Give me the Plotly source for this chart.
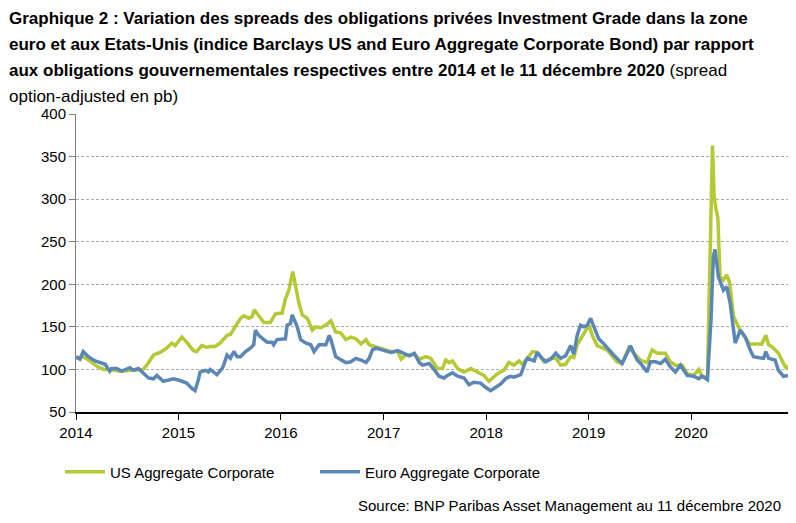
import plotly.graph_objects as go

FONT = "Liberation Sans, Arial, sans-serif"

us_dates = [
    "2014-01-01", "2014-01-27", "2014-02-20", "2014-03-15", "2014-04-09", "2014-05-01", "2014-06-08",
    "2014-07-12", "2014-08-05", "2014-08-29", "2014-09-10", "2014-10-04", "2014-10-28", "2014-11-20",
    "2014-12-08", "2014-12-20", "2015-01-13", "2015-01-30", "2015-02-23", "2015-03-07", "2015-03-25",
    "2015-04-12", "2015-04-24", "2015-05-12", "2015-05-30", "2015-06-23", "2015-07-05", "2015-07-23",
    "2015-08-10", "2015-08-22", "2015-09-08", "2015-09-20", "2015-09-28", "2015-10-14", "2015-11-01",
    "2015-11-24", "2015-12-12", "2015-12-24", "2016-01-05", "2016-01-17", "2016-01-29", "2016-02-12",
    "2016-02-22", "2016-03-05", "2016-03-17", "2016-04-04", "2016-04-22", "2016-05-04", "2016-05-22",
    "2016-06-09", "2016-06-27", "2016-07-14", "2016-08-01", "2016-08-19", "2016-09-06", "2016-09-24",
    "2016-10-12", "2016-10-30", "2016-11-10", "2016-12-04", "2016-12-28", "2017-01-27", "2017-02-20",
    "2017-03-04", "2017-03-21", "2017-04-08", "2017-04-20", "2017-05-08", "2017-05-31", "2017-06-18",
    "2017-07-11", "2017-07-29", "2017-08-10", "2017-08-22", "2017-09-03", "2017-09-21", "2017-10-14",
    "2017-11-07", "2017-11-30", "2017-12-24", "2018-01-11", "2018-01-17", "2018-02-10", "2018-03-05",
    "2018-03-23", "2018-04-10", "2018-04-28", "2018-05-10", "2018-05-28", "2018-06-15", "2018-07-02",
    "2018-07-26", "2018-08-19", "2018-09-06", "2018-09-23", "2018-10-11", "2018-10-29", "2018-11-09",
    "2018-11-21", "2018-12-03", "2018-12-15", "2019-01-02", "2019-01-14", "2019-01-31", "2019-03-08",
    "2019-03-19", "2019-04-12", "2019-04-30", "2019-05-24", "2019-06-11", "2019-07-04", "2019-07-28",
    "2019-08-15", "2019-09-02", "2019-10-01", "2019-10-19", "2019-11-06", "2019-11-30", "2019-12-18",
    "2020-01-10", "2020-01-28", "2020-02-09", "2020-02-28", "2020-03-17", "2020-03-23", "2020-03-30",
    "2020-04-05", "2020-04-13", "2020-04-25", "2020-05-07", "2020-05-17", "2020-05-31", "2020-06-12",
    "2020-06-24", "2020-07-12", "2020-07-29", "2020-08-10", "2020-09-09", "2020-09-23", "2020-10-03",
    "2020-10-20", "2020-11-07", "2020-11-25", "2020-12-05", "2020-12-11",
]
us_values = [
    113, 115, 110, 104, 100, 100, 98,
    99, 100, 100, 105, 117, 120, 125,
    131, 128, 138, 132, 122, 121, 128,
    126, 127, 127, 131, 140, 141, 150,
    160, 163, 160, 162, 170, 163, 155,
    155, 165, 166, 166, 183, 193, 215,
    197, 178, 164, 160, 146, 150, 149,
    152, 157, 144, 143, 135, 138, 136,
    130, 135, 129, 127, 124, 121, 121,
    112, 117, 117, 118, 112, 115, 113,
    101, 101, 111, 108, 110, 101, 97,
    101, 97, 93, 86, 88, 95, 99,
    108, 105, 110, 106, 113, 121, 120,
    109, 113, 113, 105, 106, 115, 114,
    129, 136, 142, 152, 140, 128, 123,
    119, 109, 107, 125, 119, 111, 108,
    123, 119, 119, 109, 105, 105, 95,
    93, 100, 92, 90, 363, 303, 287,
    279, 209, 205, 211, 202, 162, 154,
    146, 137, 129, 130, 130, 140, 129,
    125, 119, 107, 101, 105,
]

eu_dates = [
    "2014-01-01", "2014-01-15", "2014-01-27", "2014-02-14", "2014-03-10", "2014-03-28", "2014-04-15",
    "2014-05-01", "2014-05-08", "2014-05-26", "2014-06-13", "2014-07-12", "2014-07-24", "2014-08-11",
    "2014-08-29", "2014-09-16", "2014-10-04", "2014-10-16", "2014-11-08", "2014-12-02", "2014-12-14",
    "2015-01-07", "2015-01-30", "2015-02-17", "2015-03-01", "2015-03-13", "2015-03-19", "2015-04-06",
    "2015-04-18", "2015-04-24", "2015-05-06", "2015-05-18", "2015-06-05", "2015-06-11", "2015-06-23",
    "2015-07-05", "2015-07-17", "2015-07-29", "2015-08-10", "2015-08-28", "2015-09-14", "2015-09-26",
    "2015-10-02", "2015-10-14", "2015-11-01", "2015-11-13", "2015-11-30", "2015-12-06", "2015-12-18",
    "2016-01-05", "2016-01-17", "2016-01-23", "2016-02-04", "2016-02-10", "2016-02-16", "2016-02-28",
    "2016-03-11", "2016-03-29", "2016-04-16", "2016-04-28", "2016-05-16", "2016-06-09", "2016-06-21",
    "2016-06-27", "2016-07-14", "2016-08-01", "2016-08-19", "2016-09-06", "2016-09-24", "2016-10-12",
    "2016-10-30", "2016-11-10", "2016-11-22", "2016-12-04", "2016-12-22", "2017-01-27", "2017-02-20",
    "2017-03-15", "2017-04-02", "2017-04-20", "2017-05-08", "2017-05-19", "2017-06-12", "2017-06-29",
    "2017-07-17", "2017-08-04", "2017-08-16", "2017-09-03", "2017-09-21", "2017-10-14", "2017-11-01",
    "2017-11-18", "2017-12-12", "2017-12-30", "2018-01-17", "2018-02-04", "2018-02-22", "2018-03-11",
    "2018-03-29", "2018-04-10", "2018-05-04", "2018-05-22", "2018-05-28", "2018-06-21", "2018-07-02",
    "2018-07-14", "2018-08-01", "2018-08-19", "2018-09-06", "2018-09-23", "2018-10-11", "2018-10-29",
    "2018-11-09", "2018-11-21", "2018-12-03", "2018-12-15", "2018-12-27", "2019-01-08", "2019-01-20",
    "2019-02-06", "2019-02-24", "2019-03-08", "2019-03-19", "2019-03-31", "2019-04-12", "2019-04-30",
    "2019-05-18", "2019-05-30", "2019-06-11", "2019-06-23", "2019-07-10", "2019-07-28", "2019-08-09",
    "2019-08-27", "2019-09-14", "2019-10-01", "2019-10-19", "2019-11-06", "2019-11-24", "2019-12-18",
    "2020-01-10", "2020-01-28", "2020-02-09", "2020-02-28", "2020-03-12", "2020-03-20", "2020-03-26",
    "2020-04-07", "2020-04-25", "2020-05-07", "2020-05-19", "2020-05-31", "2020-06-06", "2020-06-24",
    "2020-07-12", "2020-07-29", "2020-08-10", "2020-09-15", "2020-09-23", "2020-10-03", "2020-10-26",
    "2020-11-07", "2020-11-25", "2020-12-11",
]
eu_values = [
    115, 112, 121, 115, 110, 108, 106,
    98, 101, 101, 98, 102, 99, 101,
    96, 90, 89, 93, 86, 88, 89,
    87, 84, 78, 75, 88, 97, 99,
    97, 100, 97, 94, 101, 105, 117,
    113, 121, 115, 115, 121, 125, 129,
    146, 140, 135, 132, 132, 129, 135,
    135, 136, 152, 154, 164, 160, 150,
    135, 131, 129, 121, 129, 129, 140,
    135, 115, 112, 108, 109, 113, 111,
    108, 113, 123, 125, 123, 120, 122,
    118, 116, 119, 108, 105, 107, 100,
    92, 90, 93, 96, 92, 90, 82,
    85, 84, 79, 75, 79, 83, 89,
    92, 91, 94, 110, 113, 110, 120,
    115, 109, 112, 119, 113, 116, 128,
    118, 140, 152, 150, 152, 160, 150,
    136, 130, 125, 121, 117, 113, 107,
    119, 128, 119, 111, 105, 97, 109,
    109, 107, 112, 103, 97, 105, 93,
    92, 89, 92, 88, 160, 232, 241,
    209, 193, 197, 178, 146, 131, 146,
    138, 123, 115, 113, 121, 113, 111,
    99, 92, 93,
]

series_names = ["US Aggregate Corporate", "Euro Aggregate Corporate"]
series_colors = ["#B5C934", "#5B87B6"]

year_ticks = ["2014-01-01", "2015-01-01", "2016-01-01", "2017-01-01", "2018-01-01", "2019-01-01", "2020-01-01"]
year_labels = ["2014", "2015", "2016", "2017", "2018", "2019", "2020"]
y_ticks = [50, 100, 150, 200, 250, 300, 350, 400]

title_lines = [
    "<b>Graphique 2 : Variation des spreads des obligations privées Investment Grade dans la zone</b>",
    "<b>euro et aux Etats-Unis (indice Barclays US and Euro Aggregate Corporate Bond) par rapport</b>",
    "<b>aux obligations gouvernementales respectives entre 2014 et le 11 décembre 2020</b> (spread",
    "option-adjusted en pb)",
]
title_line_y = [18, 44, 70, 96]
source_text = "Source: BNP Paribas Asset Management au 11 décembre 2020"

# plot area in pixels: x 76..788, y 114..412
L, R, T, B = 76, 788, 114, 412
def px(x):
    return (x - L) / (R - L)
def py(y):
    return (B - y) / (B - T)

fig = go.Figure()
fig.add_trace(go.Scatter(x=us_dates, y=us_values, mode="lines", name=series_names[0],
                         line=dict(color=series_colors[0], width=3.5)))
fig.add_trace(go.Scatter(x=eu_dates, y=eu_values, mode="lines", name=series_names[1],
                         line=dict(color=series_colors[1], width=3.5)))

annotations = []
for txt, yy in zip(title_lines, title_line_y):
    annotations.append(dict(text=txt, xref="paper", yref="paper", x=px(7), y=py(yy),
                            xanchor="left", yanchor="middle", align="left", showarrow=False,
                            font=dict(family=FONT, size=17, color="#000000")))
annotations.append(dict(text=source_text, xref="paper", yref="paper", x=px(783), y=py(505),
                        xanchor="right", yanchor="middle", showarrow=False,
                        font=dict(family=FONT, size=15, color="#000000")))

fig.update_layout(
    width=796, height=523,
    margin=dict(l=L, r=796 - R, t=T, b=523 - B),
    paper_bgcolor="white", plot_bgcolor="white",
    font=dict(family=FONT, size=15, color="#000000"),
    showlegend=True,
    legend=dict(orientation="h", x=px(60), y=py(472),
                xanchor="left", yanchor="middle", font=dict(size=15),
                entrywidth=200, entrywidthmode="pixels", itemwidth=40, tracegroupgap=0,
                bgcolor="rgba(0,0,0,0)"),
    annotations=annotations,
)

fig.update_xaxes(
    type="date", range=["2014-01-01", "2020-12-11"],
    tickmode="array", tickvals=year_ticks, ticktext=year_labels,
    showline=True, linecolor="#000000", linewidth=1.5,
    ticks="outside", ticklen=6, tickcolor="#000000", tickwidth=1,
    showgrid=False, zeroline=False, tickfont=dict(size=15),
)
fig.update_yaxes(
    range=[50, 400], tickmode="array", tickvals=y_ticks,
    showline=True, linecolor="#808080", linewidth=1,
    ticks="outside", ticklen=6, tickcolor="#808080",
    showgrid=True, gridcolor="#ABABAB", gridwidth=1, griddash="3px,2px",
    zeroline=False, tickfont=dict(size=15),
)

fig.write_html("out.html")
